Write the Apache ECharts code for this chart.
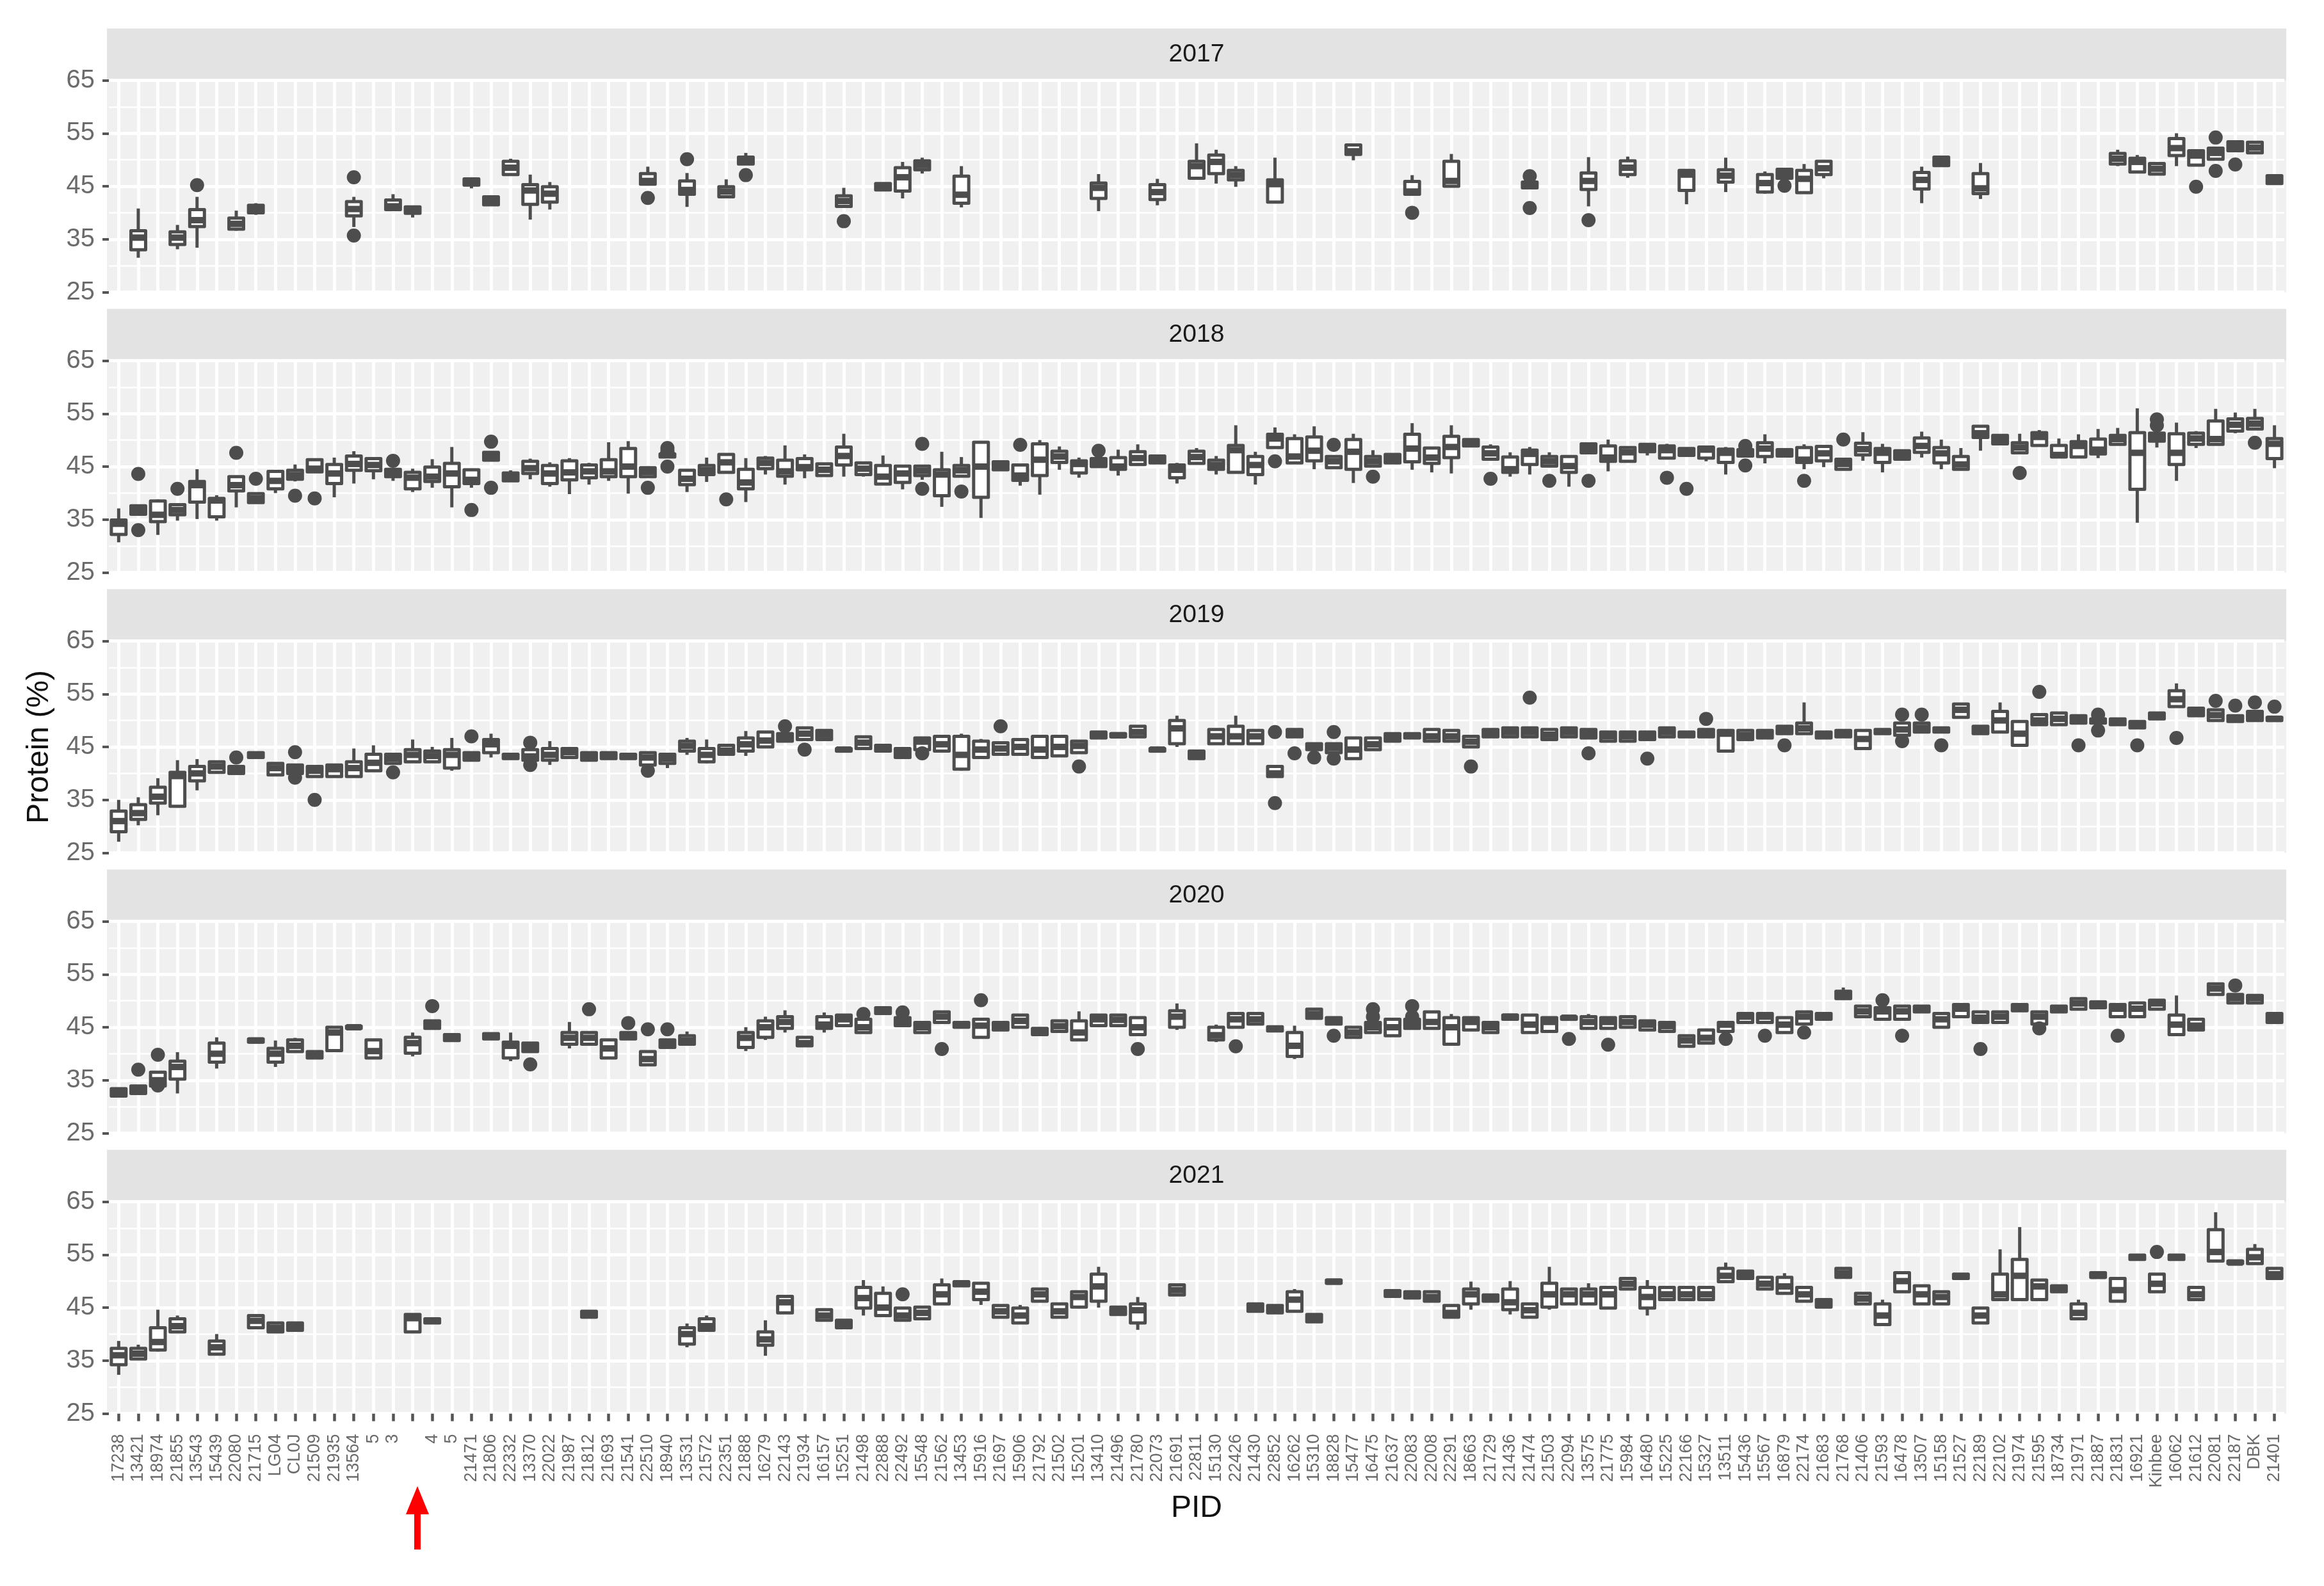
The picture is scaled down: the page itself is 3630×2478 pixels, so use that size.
<!DOCTYPE html>
<html><head><meta charset="utf-8">
<script src="https://cdn.jsdelivr.net/npm/echarts@6/dist/echarts.min.js"></script>
<style>html,body{margin:0;padding:0;background:#fff}#c{width:3630px;height:2478px}</style>
</head><body><div id="c"></div>
<script>
// ---------------- DATA ----------------
const pids = ['17238','13421','18974','21855','13543','15439','22080','21715','LG04','CL0J',
'21509','21935','13564','5','3','','4','5','21471','21806',
'22332','13370','22022','21987','21812','21693','21541','22510','18940','13531',
'21572','22351','21888','16279','22143','21934','16157','15251','21498','22888',
'22492','15548','21562','13453','15916','21697','15906','21792','21502','15201',
'13410','21496','21780','22073','21691','22811','15130','22426','21430','22852',
'16262','15310','18828','15477','16475','21637','22083','22008','22291','18663',
'21729','21436','21474','21503','22094','13575','21775','15984','16480','15225',
'22166','15327','13511','15436','15567','16879','22174','21683','21768','21406',
'21593','16478','13507','15158','21527','22189','22102','21974','21595','18734',
'21971','21887','21831','16921','Kinbee','16062','21612','22081','22187','DBK','21401'];
const years = ['2017','2018','2019','2020','2021'];
const yTicks = [25, 35, 45, 55, 65];

// rows: [category index, lower whisker, Q1, median, Q3, upper whisker]
const box2017 = [
[1,31.5,33.0,35.3,36.6,40.8],[3,33.1,34.0,35.3,36.4,37.7],[4,33.4,37.4,38.6,40.6,43.0],
[6,36.6,36.9,37.9,39.0,40.4],[7,39.6,40.0,40.6,41.4,41.8],[12,37.3,39.4,40.7,42.1,43.0],
[14,40.4,40.6,41.2,42.4,43.5],[15,39.1,39.9,40.5,41.1,41.1],[18,44.6,45.2,45.8,46.4,46.4],
[19,41.5,41.5,42.2,43.0,43.0],[20,47.0,47.2,48.5,49.7,50.2],[21,38.7,41.6,44.2,45.3,47.2],
[22,40.6,42.0,43.6,44.9,45.8],[27,45.4,45.4,46.0,47.4,48.7],[29,41.1,43.5,44.3,46.0,47.5],
[31,43.0,43.0,44.0,44.9,46.3],[32,49.2,49.2,49.8,50.5,51.3],[37,41.2,41.2,42.2,43.2,44.7],
[39,44.3,44.3,44.9,45.5,45.5],[40,42.7,44.1,46.7,48.5,49.6],[41,47.4,48.1,49.0,49.8,50.4],
[43,41.0,41.8,43.4,46.9,48.8],[50,40.3,42.7,44.7,45.6,47.3],[53,41.4,42.5,43.9,45.3,46.4],
[55,46.5,46.5,48.8,49.7,53.1],[56,45.5,47.4,49.6,50.9,51.9],[57,44.9,46.2,47.1,48.0,48.8],
[59,42.0,42.0,45.4,46.2,50.4],[63,49.9,51.0,51.6,52.8,52.8],[66,43.5,43.5,44.0,45.9,47.1],
[68,45.0,45.0,46.0,49.7,51.1],[72,44.7,44.7,45.2,45.8,45.8],[75,41.2,44.4,46.0,47.5,50.5],
[77,46.6,47.2,48.5,49.8,50.6],[80,41.6,44.2,47.2,48.0,48.2],[82,43.9,45.8,47.0,48.1,50.4],
[84,43.6,43.9,45.6,47.2,47.8],[85,46.5,46.5,47.3,48.2,48.3],[86,43.8,43.8,46.4,48.0,49.2],
[87,46.5,47.2,48.4,49.7,49.7],[92,41.8,44.5,46.2,47.6,48.7],[93,48.9,48.9,49.7,50.5,50.5],
[95,42.6,43.6,44.6,47.4,49.4],[102,48.8,49.2,50.2,51.2,51.9],[103,47.7,47.7,49.6,50.3,50.9],
[104,47.3,47.3,48.3,49.3,49.3],[105,48.8,50.8,52.2,54.0,55.0],[106,49.0,49.0,50.8,51.7,51.7],
[107,50.1,50.1,51.3,52.2,52.2],[108,51.7,51.7,52.5,53.4,53.4],[109,51.3,51.3,52.3,53.3,53.3],
[110,45.5,45.5,46.2,47.0,47.0]];
const out2017 = [[4,45.2],[12,46.7],[12,35.7],[27,42.8],[29,50.1],[32,47.1],[37,38.4],[66,40.0],
[72,46.9],[72,40.9],[75,38.6],[85,45.1],[106,44.9],[107,54.2],[107,47.9],[108,49.1]];

const box2018 = [
[0,30.7,32.2,34.2,34.9,37.1],[1,36.0,36.0,36.8,37.6,37.6],[2,32.1,34.6,35.9,38.5,38.8],
[3,34.8,35.9,36.8,37.8,37.8],[4,35.1,38.3,41.5,42.2,44.5],[5,34.8,35.5,38.6,39.0,39.6],
[6,37.3,40.4,41.5,43.1,43.3],[7,38.2,38.2,39.0,39.9,39.9],[8,40.0,40.8,42.3,44.1,44.1],
[9,42.2,42.6,43.4,44.3,45.4],[10,44.0,44.0,44.6,46.3,46.3],[11,39.2,41.8,43.7,45.4,46.7],
[12,41.8,44.3,45.5,47.0,47.9],[13,42.6,44.2,45.3,46.5,46.5],[14,42.3,43.1,43.8,44.5,44.5],
[15,40.2,40.8,42.9,43.9,44.6],[16,41.0,42.2,43.1,44.9,46.4],[17,37.3,41.2,43.7,45.6,48.7],
[18,41.0,41.8,42.5,44.4,44.6],[19,46.2,46.2,47.0,47.7,47.7],[20,42.3,42.3,43.0,43.8,44.3],
[21,42.6,43.7,44.7,46.0,46.5],[22,41.2,41.8,43.7,45.2,45.8],[23,39.8,42.5,43.9,46.1,46.6],
[24,41.6,42.9,44.1,45.3,45.7],[25,42.3,43.1,44.1,46.3,49.6],[26,39.9,43.1,45.0,48.4,49.8],
[27,43.1,43.1,44.0,44.8,44.8],[28,46.6,46.8,47.2,47.4,47.4],[29,40.2,41.6,42.7,44.3,44.3],
[30,42.1,43.5,44.3,45.2,46.7],[31,43.9,43.9,45.8,47.3,47.3],[32,38.3,40.8,42.0,44.5,46.6],
[33,43.5,44.6,45.7,46.6,47.0],[34,41.6,43.2,44.1,46.2,49.0],[35,42.8,44.4,44.9,46.5,47.3],
[36,43.3,43.3,44.4,45.5,45.5],[37,43.1,45.3,47.0,48.7,51.2],[38,43.1,43.5,44.6,45.7,45.7],
[39,41.7,41.7,43.1,45.2,47.1],[40,40.7,42.0,43.7,45.1,45.1],[41,42.5,43.3,44.2,45.1,45.1],
[42,37.4,39.5,43.5,44.4,47.8],[43,43.2,43.2,44.3,45.2,46.8],[44,35.3,39.2,45.0,49.6,49.6],
[45,44.4,44.4,45.1,45.9,45.9],[46,41.4,42.4,43.3,45.3,45.3],[47,39.7,43.3,46.3,49.3,50.0],
[48,44.4,45.8,46.9,47.9,48.8],[49,42.9,43.8,45.5,46.1,46.7],[50,45.0,45.0,45.7,46.5,46.5],
[51,43.3,44.5,45.0,46.7,48.2],[52,45.4,45.4,46.6,47.8,49.2],[53,45.7,45.7,46.3,47.0,47.0],
[54,41.8,42.9,44.4,45.3,45.7],[55,45.6,45.6,46.8,47.9,48.5],[56,43.5,44.5,45.3,46.2,47.0],
[57,43.9,43.9,48.1,49.0,52.8],[58,41.6,43.5,45.3,46.9,47.8],[59,48.6,48.6,50.3,51.1,52.4],
[60,45.7,45.7,46.9,50.3,51.1],[61,44.5,46.1,48.0,50.6,52.6],[62,44.8,44.8,46.0,46.9,46.9],
[63,41.9,44.5,47.8,50.1,51.2],[64,45.1,45.1,46.0,46.9,48.1],[65,45.7,45.7,46.5,47.3,47.3],
[66,44.4,45.9,48.4,51.1,53.2],[67,43.9,45.6,46.7,48.5,48.5],[68,43.7,46.7,48.7,50.7,52.8],
[69,48.9,48.9,49.5,50.1,50.1],[70,46.4,46.4,47.5,48.7,49.2],[71,43.1,43.9,44.5,46.8,47.7],
[72,43.5,45.4,47.4,48.1,48.7],[73,45.1,45.1,46.0,46.9,47.7],[74,41.2,43.9,45.1,46.9,46.9],
[75,47.6,47.6,48.4,49.3,49.3],[76,44.1,46.0,46.7,48.9,50.1],[77,46.0,46.0,47.7,48.6,48.6],
[78,47.1,47.8,48.5,49.2,49.2],[79,46.6,46.6,48.1,48.9,49.3],[80,47.1,47.1,47.8,48.4,48.4],
[81,46.0,46.6,48.2,48.7,48.7],[82,43.5,45.8,47.6,48.3,48.7],[83,47.0,47.0,47.7,48.2,48.2],
[84,45.6,46.9,48.4,49.5,51.1],[85,47.0,47.0,47.6,48.2,48.2],[86,44.5,45.8,46.3,48.6,49.2],
[87,44.9,46.1,47.5,48.8,48.8],[88,44.5,44.5,45.5,46.4,46.4],[89,46.1,47.2,48.3,49.4,51.5],
[90,43.9,45.8,47.6,48.4,49.3],[91,46.4,46.4,47.2,48.0,48.0],[92,46.7,47.7,48.9,50.4,51.6],
[93,44.5,45.7,47.5,48.6,50.1],[94,44.5,44.5,45.4,46.9,48.5],[95,48.0,50.5,51.3,52.6,52.6],
[96,49.3,49.3,50.1,50.9,50.9],[97,47.6,47.6,48.6,49.5,51.2],[98,49.0,49.0,50.6,51.4,51.9],
[99,46.8,46.8,47.2,49.0,50.3],[100,46.8,46.8,48.9,49.7,51.1],[101,46.6,47.4,48.2,50.2,52.1],
[102,49.2,49.2,50.2,50.9,52.3],[103,34.4,40.7,47.6,51.4,56.0],[104,48.6,49.8,50.5,51.3,51.3],
[105,42.3,45.4,47.6,51.2,53.3],[106,48.5,49.2,50.3,51.3,51.7],[107,49.2,49.2,50.2,53.6,55.9],
[108,51.3,51.7,52.9,54.0,55.2],[109,52.1,52.1,53.1,54.1,55.9],[110,44.7,46.5,49.3,50.3,52.8]];
const out2018 = [[1,43.6],[1,33.0],[3,40.8],[6,47.6],[7,42.7],[9,39.5],[10,39.0],[14,46.1],
[18,36.8],[19,49.7],[19,41.0],[27,41.0],[28,48.5],[28,48.0],[28,45.0],[31,38.8],[41,49.3],
[41,40.8],[43,40.3],[46,49.1],[50,48.0],[59,46.0],[62,49.1],[64,43.1],[70,42.7],[73,42.3],
[75,42.3],[79,42.9],[80,40.8],[83,48.9],[83,45.2],[86,42.3],[88,50.1],[97,43.8],[104,53.9],
[104,52.8],[109,49.5]];

const box2019 = [
[0,27.1,29.0,31.0,32.9,35.0],[1,30.2,31.3,32.5,34.1,35.5],[2,32.1,34.4,35.6,37.4,39.1],
[3,33.5,33.8,39.5,40.2,42.5],[4,36.8,38.6,40.0,41.3,42.7],[5,40.2,40.2,41.3,42.2,42.2],
[6,40.0,40.0,40.7,41.3,41.3],[7,43.0,43.0,43.5,43.9,43.9],[8,39.7,39.7,41.0,41.9,41.9],
[9,40.0,40.0,40.8,41.6,41.6],[10,39.4,39.4,40.5,41.3,41.3],[11,39.4,39.4,40.8,41.6,41.6],
[12,39.4,39.4,41.0,42.2,44.7],[13,40.5,40.5,42.0,43.6,45.3],[14,41.9,41.9,42.8,43.6,43.6],
[15,42.2,42.2,43.5,44.5,46.4],[16,42.2,42.2,43.3,44.2,45.0],[17,40.5,41.0,43.5,44.5,46.7],
[18,42.5,42.5,43.2,43.9,43.9],[19,43.0,43.9,45.5,46.4,47.5],[20,42.8,42.8,43.2,43.6,43.6],
[21,42.5,42.5,43.2,44.5,44.5],[22,41.6,42.5,43.5,44.7,46.1],[23,43.0,43.0,44.0,44.7,44.7],
[24,42.5,42.5,43.2,43.9,43.9],[25,42.8,42.8,43.4,43.9,43.9],[26,42.8,42.8,43.2,43.6,43.6],
[27,41.6,41.6,43.0,43.9,43.9],[28,41.0,41.9,42.8,43.6,43.6],[29,43.5,44.2,45.2,46.1,46.7],
[30,41.9,42.2,43.5,44.7,46.4],[31,43.6,43.6,44.3,45.3,45.3],[32,43.3,44.2,45.5,46.7,48.0],
[33,45.0,45.0,46.2,47.8,47.8],[34,46.1,46.1,46.8,47.5,47.5],[35,46.4,46.4,47.5,48.6,48.6],
[36,46.4,46.4,47.3,48.1,48.1],[37,44.2,44.2,44.5,44.7,44.7],[38,44.7,44.7,45.8,46.9,46.9],
[39,44.2,44.2,44.7,45.3,45.3],[40,43.0,43.0,43.8,44.7,44.7],[41,44.5,44.5,46.0,46.7,46.7],
[42,44.2,44.2,45.5,47.0,47.0],[43,40.5,40.8,43.5,47.0,47.5],[44,43.0,43.0,44.5,46.1,46.5],
[45,43.6,43.6,44.7,45.8,45.8],[46,43.6,43.6,45.0,46.4,46.4],[47,43.0,43.0,44.5,47.0,47.0],
[48,43.3,43.3,45.0,47.0,47.0],[49,43.9,43.9,45.2,46.1,46.1],[50,46.7,46.7,47.3,47.8,47.8],
[51,46.9,46.9,47.2,47.5,47.5],[52,46.9,46.9,47.8,48.9,48.9],[53,44.2,44.2,44.5,44.7,44.7],
[54,45.0,45.6,48.5,50.0,50.9],[55,42.8,42.8,43.5,44.2,44.2],[56,45.6,45.6,47.0,48.3,48.3],
[57,45.6,45.6,47.0,48.9,50.9],[58,45.6,45.6,47.0,48.1,48.1],[59,39.4,39.4,40.0,41.3,41.3],
[60,46.9,46.9,47.6,48.3,48.3],[61,44.5,44.5,45.0,45.6,45.6],[62,43.9,43.9,44.8,45.6,45.6],
[63,42.8,42.8,44.5,46.7,46.7],[64,44.5,44.5,45.5,46.7,46.7],[65,46.1,46.1,46.8,47.5,47.5],
[66,46.7,46.7,47.1,47.5,47.5],[67,46.1,46.1,47.0,48.3,48.3],[68,46.1,46.1,47.0,48.1,48.1],
[69,45.0,45.0,46.0,47.0,47.0],[70,46.9,46.9,47.6,48.3,48.3],[71,46.9,46.9,47.8,48.6,48.6],
[72,46.9,46.9,47.8,48.6,48.6],[73,46.4,46.4,47.3,48.3,48.3],[74,46.9,46.9,47.8,48.6,48.6],
[75,46.7,46.7,47.5,48.3,48.3],[76,46.1,46.1,47.0,47.8,47.8],[77,46.1,46.1,47.0,47.8,47.8],
[78,46.4,46.4,47.1,47.8,47.8],[79,46.9,46.9,47.8,48.6,48.6],[80,46.9,46.9,47.3,47.8,47.8],
[81,46.9,46.9,47.6,48.3,48.3],[82,44.2,44.2,47.5,48.1,48.1],[83,46.4,46.4,47.2,48.1,48.1],
[84,46.7,46.7,47.4,48.1,48.1],[85,47.5,47.5,48.2,48.9,48.9],[86,47.5,47.5,48.5,49.5,53.4],
[87,46.7,46.7,47.2,47.8,47.8],[88,46.9,46.9,47.5,48.1,48.1],[89,44.7,44.7,46.5,48.1,48.1],
[90,47.5,47.5,47.9,48.3,48.3],[91,47.2,47.2,48.3,49.5,49.5],[92,47.8,47.8,48.6,49.5,49.5],
[93,47.8,47.8,48.2,48.6,48.6],[94,50.6,50.6,52.0,53.1,53.1],[95,47.5,47.5,48.2,48.9,48.9],
[96,47.8,47.8,50.0,51.7,53.4],[97,45.3,45.3,47.5,49.8,49.8],[98,49.2,49.2,50.0,51.1,51.1],
[99,49.2,49.2,50.3,51.4,51.4],[100,49.5,49.5,50.2,50.9,50.9],[101,49.5,49.5,49.9,50.3,50.3],
[102,49.2,49.2,49.8,50.3,50.3],[103,48.6,48.6,49.2,49.8,49.8],[104,50.3,50.3,50.8,51.4,51.4],
[105,52.6,52.6,54.0,55.6,57.0],[106,50.9,50.9,51.6,52.3,52.3],[107,50.0,50.0,51.0,52.0,52.0],
[108,49.8,49.8,50.3,50.9,50.9],[109,50.0,50.0,50.8,51.7,51.7],[110,50.0,50.0,50.3,50.6,50.6]];
const out2019 = [[6,43.0],[9,44.0],[9,39.2],[10,35.0],[14,40.2],[18,47.0],[21,45.8],[21,41.6],
[27,40.5],[34,48.9],[35,44.5],[41,43.8],[45,48.9],[49,41.3],[59,34.4],[59,47.8],[60,43.8],
[61,43.0],[62,42.8],[62,47.8],[69,41.3],[72,54.3],[75,43.8],[78,42.8],[81,50.3],[85,45.3],
[91,51.1],[91,46.1],[92,51.1],[93,45.3],[98,55.4],[100,45.3],[101,51.1],[101,48.1],[103,45.3],
[105,46.7],[107,53.7],[108,52.8],[109,53.4],[110,52.6]];

const box2020 = [
[0,32.0,32.0,32.7,33.4,33.4],[1,32.5,32.5,33.2,33.9,33.9],[2,33.9,33.9,35.0,36.5,36.5],
[3,32.5,35.2,37.5,38.6,40.3],[5,37.2,38.4,40.0,42.0,43.1],[7,42.2,42.2,42.5,42.8,42.8],
[8,37.5,38.4,40.0,41.0,42.5],[9,40.4,40.4,41.5,42.6,43.0],[10,39.2,39.2,39.8,40.4,40.4],
[11,40.6,40.6,44.0,45.0,45.0],[12,44.8,44.8,45.0,45.2,45.2],[13,39.2,39.2,40.5,42.6,42.6],
[15,39.5,40.1,42.0,43.1,44.0],[16,44.8,44.8,45.5,46.2,46.2],[17,42.5,42.5,43.0,43.6,43.6],
[19,42.8,42.8,43.3,43.8,43.8],[20,38.6,39.2,41.5,42.2,44.0],[21,40.4,40.4,41.2,42.0,42.0],
[23,41.0,41.8,43.0,44.0,46.0],[24,41.8,41.8,43.0,44.0,44.0],[25,39.2,39.2,41.0,42.6,42.6],
[26,42.8,42.8,43.4,44.0,44.0],[27,37.9,37.9,39.0,40.4,40.4],[28,41.2,41.2,41.9,42.6,42.6],
[29,41.8,41.8,42.5,43.4,44.2],[32,40.5,41.2,43.0,44.0,45.0],[33,42.6,43.1,45.0,46.2,47.0],
[34,44.0,44.8,46.0,47.0,48.2],[35,41.5,41.5,42.0,43.1,43.1],[36,44.0,44.8,45.5,47.0,47.8],
[37,45.3,45.3,46.5,47.3,47.3],[38,44.0,44.0,45.0,46.5,46.5],[39,47.6,47.6,48.2,48.7,48.7],
[40,45.3,45.3,46.0,46.8,46.8],[41,44.0,44.0,45.0,45.9,45.9],[42,45.9,45.9,47.0,47.9,47.9],
[43,45.0,45.0,45.5,45.9,45.9],[44,43.1,43.1,45.3,46.5,46.5],[45,44.5,44.5,45.0,45.9,45.9],
[46,45.0,45.0,46.2,47.3,47.3],[47,43.6,43.6,44.0,44.8,44.8],[48,44.2,44.2,45.2,46.2,46.2],
[49,42.6,42.6,44.0,46.2,48.0],[50,45.3,45.3,46.5,47.3,47.3],[51,45.3,45.3,46.4,47.3,47.3],
[52,43.6,43.6,45.0,46.8,46.8],[54,44.5,45.0,47.0,48.1,49.5],[56,42.2,42.6,43.5,45.0,45.5],
[57,45.0,45.0,46.5,47.6,47.6],[58,45.6,45.6,46.5,47.6,47.6],[59,44.3,44.3,44.7,45.1,45.1],
[60,39.0,39.5,41.5,44.0,45.3],[61,46.7,46.7,47.5,48.4,48.4],[62,45.6,45.6,46.2,46.8,46.8],
[63,43.1,43.1,44.0,45.0,45.0],[64,44.0,44.0,45.0,45.9,45.9],[65,43.4,43.4,45.0,46.5,46.5],
[66,44.8,44.8,45.6,46.5,46.5],[67,44.8,44.8,46.0,47.9,47.9],[68,41.8,41.8,45.0,46.8,47.5],
[69,44.5,44.5,46.0,46.8,46.8],[70,44.0,44.0,45.0,45.9,45.9],[71,46.5,46.5,47.0,47.3,47.3],
[72,44.0,44.0,45.5,47.3,47.3],[73,44.2,44.2,46.0,46.8,46.8],[74,46.5,46.5,46.8,47.0,47.0],
[75,44.8,44.8,46.0,47.0,47.5],[76,44.8,44.8,46.0,46.8,46.8],[77,45.0,45.0,46.0,47.0,47.0],
[78,44.5,44.5,45.5,46.2,46.2],[79,44.2,44.2,45.2,45.9,45.9],[80,41.4,41.4,42.5,43.4,43.4],
[81,42.0,42.0,43.0,44.5,44.5],[82,44.2,44.2,45.5,45.9,45.9],[83,45.9,45.9,47.0,47.6,47.6],
[84,45.9,45.9,47.0,47.6,47.6],[85,44.0,44.0,45.5,46.8,46.8],[86,45.6,45.6,47.0,47.9,47.9],
[87,46.5,46.5,47.0,47.6,47.6],[88,50.4,50.4,51.0,51.8,52.5],[89,47.0,47.0,48.0,49.0,49.0],
[90,46.5,46.5,48.0,48.7,48.7],[91,46.5,46.5,48.0,49.0,49.0],[92,47.9,47.9,48.5,49.0,49.0],
[93,45.0,45.0,46.5,47.6,47.6],[94,47.0,47.0,48.5,49.3,49.3],[95,45.9,45.9,46.8,47.9,47.9],
[96,45.9,45.9,47.0,47.9,47.9],[97,48.1,48.1,48.8,49.3,49.3],[98,45.6,45.6,47.0,47.9,47.9],
[99,47.9,47.9,48.5,49.0,49.0],[100,48.4,48.4,49.5,50.4,50.4],[101,48.7,48.7,49.3,49.8,49.8],
[102,47.0,47.0,48.5,49.3,49.3],[103,47.0,47.0,48.5,49.6,49.6],[104,48.4,48.4,49.5,50.1,50.1],
[105,43.6,43.6,45.5,47.3,51.0],[106,44.5,44.5,45.3,46.5,46.5],[107,51.2,51.2,52.3,53.2,53.2],
[108,49.6,49.6,50.5,51.2,51.2],[109,49.6,49.6,50.5,51.0,51.0],[110,45.9,45.9,46.8,47.6,47.6]];
const out2020 = [[1,37.0],[2,39.8],[2,34.0],[16,49.0],[21,38.0],[24,48.4],[26,45.8],[27,44.6],
[28,44.6],[38,47.5],[40,47.8],[42,40.9],[44,50.1],[52,40.9],[57,41.4],[62,43.4],[64,48.4],
[64,47.0],[66,49.0],[66,47.0],[74,42.8],[76,41.7],[82,42.8],[84,43.4],[86,44.0],[90,50.1],
[91,43.4],[95,40.9],[98,44.8],[102,43.4],[108,52.9]];

const box2021 = [
[0,32.3,34.2,36.0,37.3,38.7],[1,35.3,35.3,36.3,37.3,38.0],[2,36.7,37.0,38.5,41.2,44.6],
[3,40.4,40.4,41.5,42.9,43.5],[5,36.2,36.2,37.5,38.7,40.0],[7,41.2,41.2,42.5,43.5,43.5],
[8,40.4,40.4,41.2,42.1,42.1],[9,40.7,40.7,41.4,42.1,42.1],[15,40.4,40.4,43.0,43.7,43.7],
[16,42.1,42.1,42.5,42.9,42.9],[24,43.2,43.2,43.7,44.3,44.3],[29,37.5,38.1,40.0,41.2,42.0],
[30,40.7,40.7,41.5,42.9,43.5],[33,35.9,37.9,39.0,40.4,42.6],[34,44.0,44.0,46.0,47.1,47.1],
[36,42.6,42.6,43.5,44.6,44.6],[37,41.2,41.2,41.8,42.6,42.6],[38,43.5,44.9,46.8,48.8,50.2],
[39,43.5,43.5,45.0,47.7,49.0],[40,42.6,42.6,43.5,44.9,44.9],[41,42.9,42.9,44.0,45.1,45.1],
[42,45.7,45.7,47.5,49.3,50.5],[43,49.1,49.1,49.5,49.9,49.9],[44,45.5,46.5,48.0,49.6,49.6],
[45,43.2,43.2,44.3,45.4,45.4],[46,42.1,42.1,43.5,44.9,45.5],[47,46.2,46.2,47.5,48.5,48.5],
[48,43.2,43.2,44.3,45.7,45.7],[49,45.1,45.1,47.0,48.0,48.0],[50,45.0,46.2,49.0,51.3,52.7],
[51,43.7,43.7,44.5,45.1,45.1],[52,40.8,42.1,44.5,45.7,47.0],[54,47.4,47.4,48.3,49.3,49.3],
[58,44.3,44.3,45.0,45.7,45.7],[59,44.0,44.0,44.7,45.4,45.4],[60,44.3,44.3,46.5,48.0,48.5],
[61,42.3,42.3,43.0,43.7,43.7],[62,49.6,49.6,49.9,50.2,50.2],[65,47.1,47.1,47.6,48.2,48.2],
[66,46.8,46.8,47.4,48.0,48.0],[67,46.2,46.2,47.0,48.0,48.0],[68,43.2,43.2,44.0,45.4,45.4],
[69,44.6,45.7,47.5,48.5,49.9],[70,46.2,46.2,46.8,47.4,47.4],[71,43.7,44.6,46.0,48.5,50.0],
[72,43.2,43.2,44.5,45.7,45.7],[73,44.6,45.1,47.5,49.6,52.7],[74,45.7,45.7,47.5,48.5,48.5],
[75,45.7,45.7,47.5,48.5,49.6],[76,44.9,44.9,47.5,48.8,48.8],[77,48.5,48.5,49.5,50.5,50.5],
[78,43.5,44.9,47.0,48.8,50.2],[79,46.5,46.5,47.5,48.8,48.8],[80,46.5,46.5,47.5,48.8,48.8],
[81,46.5,46.5,47.5,48.8,48.8],[82,49.9,49.9,51.0,52.4,53.5],[83,50.5,50.5,51.2,51.9,51.9],
[84,48.5,48.5,49.5,50.7,50.7],[85,47.7,47.7,49.0,50.7,51.5],[86,46.2,46.2,47.5,48.8,48.8],
[87,45.1,45.1,45.7,46.5,46.5],[88,50.7,50.7,51.5,52.4,52.4],[89,45.7,45.7,46.7,47.7,47.7],
[90,41.8,41.8,43.5,45.7,46.5],[91,48.0,48.0,50.0,51.6,51.6],[92,45.7,45.7,47.5,49.1,49.1],
[93,45.7,45.7,47.0,48.0,48.0],[94,50.5,50.5,50.8,51.3,51.3],[95,42.1,42.1,43.5,44.9,44.9],
[96,46.5,46.5,47.5,51.3,56.0],[97,46.5,46.5,51.0,54.1,60.2],[98,46.5,46.5,49.0,50.2,50.2],
[99,48.0,48.0,48.5,49.1,49.1],[100,42.9,42.9,44.0,45.7,46.5],[101,50.7,50.7,51.0,51.6,51.6],
[102,46.2,46.2,48.3,50.5,50.5],[103,54.1,54.1,54.5,54.9,54.9],[104,48.0,48.0,49.5,51.3,51.3],
[105,54.1,54.1,54.5,54.9,54.9],[106,46.5,46.5,47.5,48.8,48.8],[107,53.8,53.8,55.5,59.7,63.0],
[108,53.3,53.3,53.5,53.8,53.8],[109,53.3,53.3,54.5,56.0,57.0],[110,50.5,50.5,51.3,52.4,52.4]];
const out2021 = [[40,47.5],[104,55.5]];

const boxes = [box2017, box2018, box2019, box2020, box2021];
const outs = [out2017, out2018, out2019, out2020, out2021];

// ---------------- LAYOUT / STYLE ----------------
const PANEL_L = 167, PANEL_R = 3571, TOP0 = 125.5, PANEL_H = 331, STEP = 438, STRIP_H = 81;
const nCat = pids.length;
const band = (PANEL_R - PANEL_L) / (nCat - 1 + 1.2);
const gridLeft = PANEL_L + 0.1 * band;
const gridWidth = band * nCat;
const BOX_COLOR = '#4d4d4d';
const LW = 5;
const FONT = '"Liberation Sans", Arial, Helvetica, sans-serif';
const PANEL_BG = '#f0f0f0', STRIP_BG = '#e3e3e3', AXIS_TXT = '#6b6b6b', TICK_COL = '#555555';

function renderBox(params, api) {
  const k = api.value(0);
  const pLow = api.coord([k, api.value(1)]);
  const pQ1 = api.coord([k, api.value(2)]);
  const pMed = api.coord([k, api.value(3)]);
  const pQ3 = api.coord([k, api.value(4)]);
  const pHigh = api.coord([k, api.value(5)]);
  const bw = api.size([1, 0])[0] * 0.75;
  const x = pMed[0];
  return {type: 'group', children: [
    {type: 'line', shape: {x1: x, y1: pHigh[1], x2: x, y2: pLow[1]}, style: {stroke: BOX_COLOR, lineWidth: LW}},
    {type: 'rect', shape: {x: x - bw / 2, y: pQ3[1], width: bw, height: pQ1[1] - pQ3[1]},
      style: {fill: '#ffffff', stroke: BOX_COLOR, lineWidth: LW, lineJoin: 'round'}},
    {type: 'line', shape: {x1: x - bw / 2, y1: pMed[1], x2: x + bw / 2, y2: pMed[1]}, style: {stroke: BOX_COLOR, lineWidth: LW * 2}}
  ]};
}

const grids = [], xAxes = [], yAxes = [], series = [], graphics = [];
years.forEach((yr, i) => {
  const top = TOP0 + STEP * i;
  const last = i === years.length - 1;
  grids.push({left: gridLeft, width: gridWidth, top: top, height: PANEL_H, show: false});
  graphics.push({type: 'rect', z: -1, shape: {x: PANEL_L, y: top, width: PANEL_R - PANEL_L, height: PANEL_H}, style: {fill: PANEL_BG}});
  graphics.push({type: 'rect', z: -1, shape: {x: PANEL_L, y: top - STRIP_H, width: PANEL_R - PANEL_L, height: STRIP_H}, style: {fill: STRIP_BG}});
  graphics.push({type: 'text', z: 5, x: (PANEL_L + PANEL_R) / 2, y: top - STRIP_H / 2,
    style: {text: yr, font: '39px ' + FONT, fill: '#1a1a1a', textAlign: 'center', textVerticalAlign: 'middle'}});
  xAxes.push({type: 'category', gridIndex: i, data: pids, boundaryGap: true,
    axisLine: {show: false},
    axisTick: {show: last, alignWithLabel: true, interval: 0, length: 12, lineStyle: {color: TICK_COL, width: 4.5}},
    axisLabel: {show: last, interval: 0, rotate: 90, margin: 32, fontSize: 27, fontFamily: FONT, color: AXIS_TXT},
    splitLine: {show: false}});
  yAxes.push({type: 'value', gridIndex: i, min: yTicks[0], max: yTicks[yTicks.length - 1], interval: 10,
    axisLine: {show: false},
    axisTick: {show: true, length: 10, lineStyle: {color: TICK_COL, width: 4}},
    axisLabel: {fontSize: 40, fontFamily: FONT, color: AXIS_TXT, margin: 22},
    splitLine: {show: true, lineStyle: {color: '#ffffff', width: 5}},
    minorTick: {show: false, splitNumber: 2},
    minorSplitLine: {show: true, lineStyle: {color: '#ffffff', width: 2.6}}});
  series.push({type: 'line', xAxisIndex: i, yAxisIndex: i, data: [], z: 1, silent: true,
    markLine: {silent: true, z: 1, symbol: ['none', 'none'], animation: false, label: {show: false},
      lineStyle: {color: '#ffffff', width: 5, type: 'solid'},
      data: pids.map((_, k) => ({xAxis: k}))}});
  series.push({type: 'custom', xAxisIndex: i, yAxisIndex: i, z: 2, renderItem: renderBox,
    encode: {x: 0, y: [1, 2, 3, 4, 5]}, data: boxes[i]});
  series.push({type: 'scatter', xAxisIndex: i, yAxisIndex: i, z: 3, symbol: 'circle', symbolSize: 22,
    itemStyle: {color: BOX_COLOR, opacity: 1}, data: outs[i]});
});

graphics.push({type: 'text', x: 62, y: TOP0 + STEP * 2 + PANEL_H / 2, rotation: Math.PI / 2,
  style: {text: 'Protein (%)', font: '48px ' + FONT, fill: '#111111', textAlign: 'center', textVerticalAlign: 'middle'}});
graphics.push({type: 'text', x: (PANEL_L + PANEL_R) / 2, y: 2357,
  style: {text: 'PID', font: '48px ' + FONT, fill: '#111111', textAlign: 'center', textVerticalAlign: 'middle'}});
// red arrow annotation
const ax = 652;
graphics.push({type: 'polygon', z: 10, shape: {points: [[ax, 2322], [ax + 18, 2366], [ax + 5, 2366], [ax + 5, 2421],
  [ax - 5, 2421], [ax - 5, 2366], [ax - 18, 2366]]}, style: {fill: '#ff0000'}});

const chart = echarts.init(document.getElementById('c'), null, {renderer: 'canvas', width: 3630, height: 2478});
chart.setOption({animation: false, backgroundColor: '#ffffff', grid: grids, xAxis: xAxes, yAxis: yAxes,
  series: series, graphic: graphics});
</script></body></html>
